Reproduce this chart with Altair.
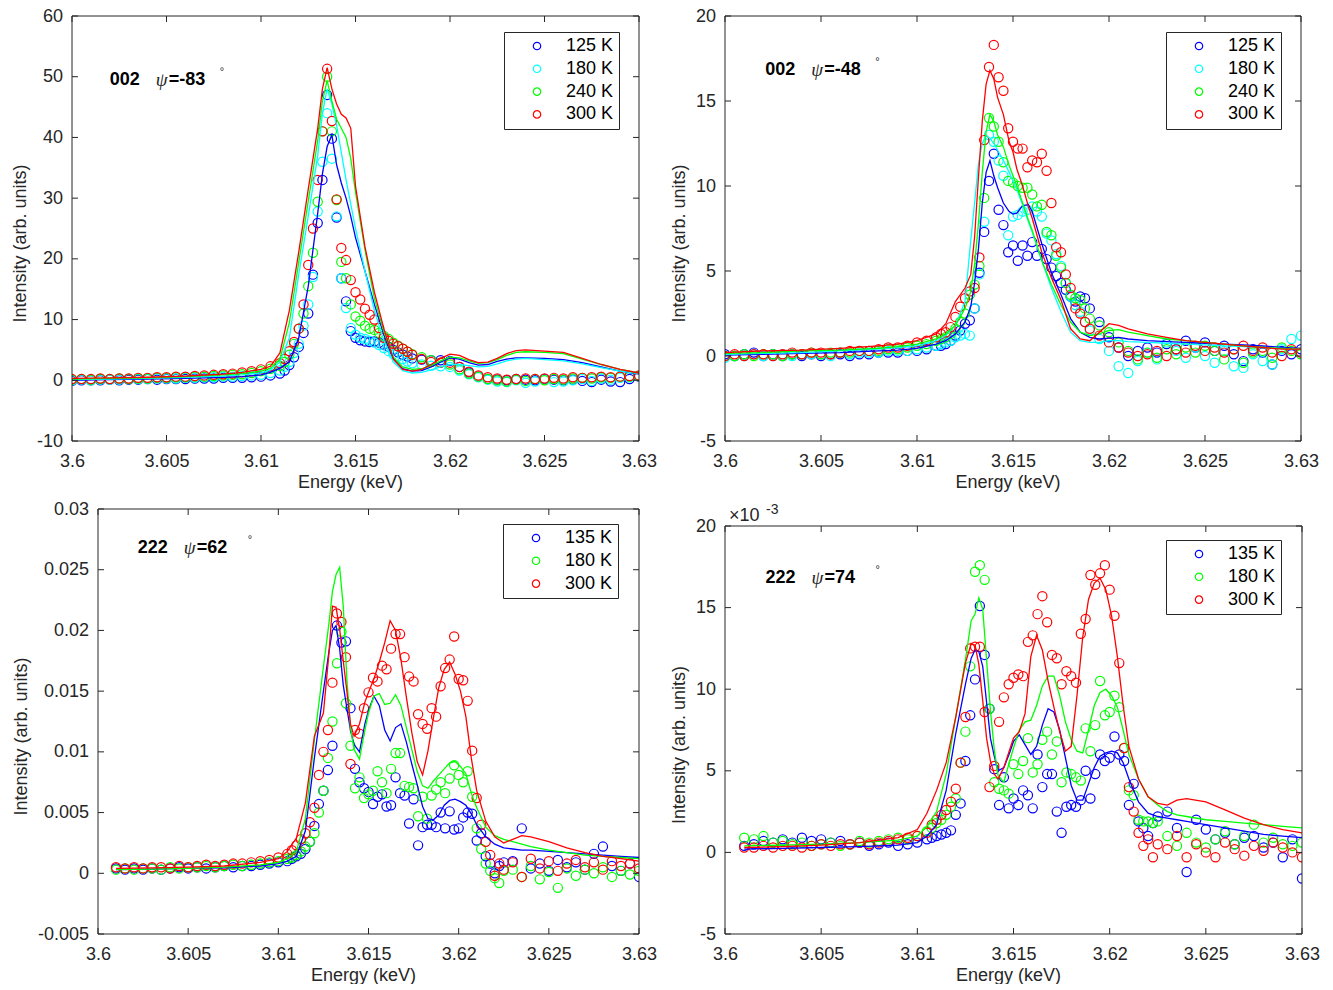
import altair as alt
import pandas as pd

FONT = "Liberation Sans"
AX = "#262626"
FS = 18

x_ticks = [3.6, 3.605, 3.61, 3.615, 3.62, 3.625, 3.63]

# ---------- panel A : 002, psi = -83 deg
a_temps = ["125 K", "180 K", "240 K", "300 K"]
a_colors = ["#0000ff", "#00ffff", "#00ff00", "#ff0000"]
a_yticks = [-10, 0, 10, 20, 30, 40, 50, 60]

xa_pts = [3.6000, 3.6005, 3.6010, 3.6015, 3.6020, 3.6025, 3.6030, 3.6035, 3.6040, 3.6045,
          3.6050, 3.6055, 3.6060, 3.6065, 3.6070, 3.6075, 3.6080, 3.6085, 3.6090, 3.6095,
          3.6100, 3.6105, 3.6110,
          3.61125, 3.6115, 3.61175, 3.6120, 3.61225, 3.6125, 3.61275, 3.6130, 3.61325, 3.6135,
          3.61375, 3.6140, 3.61425, 3.6145, 3.61475, 3.6150, 3.61525, 3.6155, 3.61575, 3.6160,
          3.61625, 3.6165, 3.61675, 3.6170, 3.61725, 3.6175, 3.61775, 3.6180,
          3.6185, 3.6190, 3.6195, 3.6200, 3.6205, 3.6210, 3.6215, 3.6220, 3.6225, 3.6230,
          3.6235, 3.6240, 3.6245, 3.6250, 3.6255, 3.6260, 3.6265, 3.6270, 3.6275, 3.6280,
          3.6285, 3.6290, 3.6295, 3.6300]
a125_pts = [-0.1, 0.0, 0.0, 0.0, 0.1, 0.0, 0.1, 0.1, 0.2, 0.1, 0.2, 0.2, 0.2, 0.3, 0.3, 0.3, 0.4, 0.4, 0.4, 0.5, 0.6, 0.8, 1.1,
            1.6, 2.5, 3.8, 5.5, 7.8, 11.0, 17.4, 25.9, 33.0, 47.0, 39.8, 26.8, 16.8, 13.0, 8.1, 7.0, 6.6, 6.4, 6.3, 6.4,
            6.2, 5.9, 5.5, 5.0, 4.6, 4.2, 3.9, 3.6,
            3.4, 3.3, 3.3, 3.2, 2.2, 1.3, 0.6, 0.2, 0.1, 0.0, 0.2, 0.1, 0.0, 0.2, 0.1, 0.0, 0.1, -0.1, -0.3, 0.1,
            -0.2, -0.3, 0.2, 0.6]
a180_pts = [0.0, 0.1, 0.0, 0.1, 0.1, 0.1, 0.2, 0.2, 0.2, 0.3, 0.3, 0.3, 0.4, 0.4, 0.5, 0.5, 0.6, 0.6, 0.7, 0.8, 0.9, 1.2, 1.6,
            2.2, 3.0, 4.5, 6.0, 9.0, 12.5, 17.0, 27.8, 36.0, 44.0, 36.5, 27.0, 16.8, 11.9, 8.6, 7.5, 7.0, 6.8, 6.5, 6.2,
            5.8, 5.3, 4.8, 4.3, 3.9, 3.5, 3.1, 2.8,
            2.6, 2.4, 2.3, 2.2, 1.6, 1.0, 0.5, 0.1, -0.2, -0.3, 0.0, -0.4, -0.2, 0.1, -0.3, -0.2, 0.0, 0.2, -0.1, 0.3,
            0.1, 0.4, 0.5, 0.7]
a240_pts = [0.1, 0.2, 0.1, 0.2, 0.2, 0.3, 0.2, 0.3, 0.3, 0.4, 0.4, 0.5, 0.5, 0.6, 0.6, 0.7, 0.8, 0.9, 1.0, 1.2, 1.5, 1.9, 2.4,
            3.0, 4.2, 6.0, 8.5, 11.0, 15.5, 21.0, 29.4, 41.0, 50.0, 41.0, 29.7, 19.5, 16.8, 12.5, 10.5, 9.8, 9.0, 8.5, 8.3,
            7.8, 7.3, 6.8, 6.2, 5.7, 5.2, 4.7, 4.3,
            3.8, 3.3, 2.9, 2.6, 1.8, 1.1, 0.6, 0.2, 0.0, -0.2, 0.1, -0.1, 0.2, 0.0, 0.2, 0.1, 0.3, 0.4, 0.3, 0.5,
            0.4, 0.6, 0.6, 0.7]
a300_pts = [0.2, 0.2, 0.2, 0.3, 0.2, 0.3, 0.3, 0.4, 0.4, 0.5, 0.5, 0.6, 0.6, 0.7, 0.8, 0.9, 1.0, 1.1, 1.3, 1.5, 1.8, 2.3, 2.8,
            3.5, 4.8, 6.3, 8.5, 12.5, 19.0, 25.0, 33.0, 41.0, 51.3, 42.7, 29.8, 21.8, 19.8, 16.5, 14.5, 13.3, 11.8, 10.8, 10.0,
            8.6, 7.0, 6.5, 6.0, 5.6, 5.2, 4.7, 4.2,
            3.5, 3.0, 2.9, 2.9, 2.2, 1.4, 0.8, 0.5, 0.3, 0.1, 0.2, 0.3, 0.2, 0.3, 0.4, 0.3, 0.5, 0.4, 0.5, 0.6,
            0.5, 0.6, 0.7, 0.8]

xa_fit = [3.600, 3.602, 3.604, 3.606, 3.608, 3.609, 3.610, 3.6105, 3.611, 3.6115,
          3.612, 3.6125, 3.613, 3.61325, 3.6135, 3.61375, 3.614, 3.61425, 3.6145, 3.61475,
          3.615, 3.6155, 3.616, 3.6165, 3.617, 3.6175, 3.618, 3.6185, 3.619, 3.6195,
          3.620, 3.6205, 3.621, 3.6215, 3.622, 3.6225, 3.623, 3.6235, 3.624, 3.625,
          3.626, 3.627, 3.628, 3.629, 3.630]
a125_fit = [0.0, 0.1, 0.2, 0.3, 0.5, 0.6, 0.9, 1.3, 2.0, 3.0,
            7.0, 15.5, 27.5, 34.0, 38.5, 40.4, 35.5, 32.5, 30.0, 27.0,
            23.5, 18.0, 12.5, 7.5, 3.5, 1.9, 1.5, 1.6, 2.2, 3.0,
            3.7, 3.5, 2.9, 2.5, 2.6, 3.1, 3.5, 3.7, 3.7, 3.6,
            3.4, 2.9, 2.2, 1.5, 1.0]
a180_fit = [0.1, 0.2, 0.3, 0.5, 0.7, 0.9, 1.2, 1.7, 3.0, 7.0,
            17.5, 27.0, 37.0, 44.0, 48.0, 45.5, 42.0, 37.5, 33.0, 29.0,
            25.0, 18.0, 11.5, 6.5, 3.0, 1.6, 1.2, 1.3, 1.7, 2.2,
            2.6, 2.6, 2.4, 2.2, 2.3, 2.7, 3.2, 3.5, 3.6, 3.4,
            3.2, 2.7, 2.1, 1.5, 1.1]
a240_fit = [0.2, 0.3, 0.4, 0.6, 0.9, 1.1, 1.5, 2.0, 3.5, 9.5,
            19.5, 29.5, 39.5, 46.0, 49.4, 46.0, 43.0, 41.5, 40.0, 36.5,
            31.0, 21.5, 13.5, 8.0, 3.8, 2.2, 1.8, 1.9, 2.4, 3.2,
            3.8, 3.7, 3.2, 2.8, 2.9, 3.4, 4.1, 4.6, 4.7, 4.6,
            4.4, 3.5, 2.6, 1.8, 1.2]
a300_fit = [0.3, 0.4, 0.5, 0.7, 1.0, 1.3, 1.8, 2.3, 4.5, 11.5,
            21.2, 31.5, 41.5, 48.0, 51.5, 48.0, 45.5, 43.8, 43.2, 41.5,
            32.0, 22.0, 14.5, 8.5, 3.5, 1.8, 1.5, 1.8, 2.6, 3.6,
            4.3, 4.1, 3.4, 2.9, 3.0, 3.6, 4.4, 4.9, 5.0, 4.8,
            4.6, 3.6, 2.6, 1.8, 1.2]

# ---------- panel B : 002, psi = -48 deg
b_yticks = [-5, 0, 5, 10, 15, 20]
xb_pts = [3.6000, 3.6005, 3.6010, 3.6015, 3.6020, 3.6025, 3.6030, 3.6035, 3.6040, 3.6045,
          3.6050, 3.6055, 3.6060, 3.6065, 3.6070, 3.6075, 3.6080, 3.6085, 3.6090, 3.6095,
          3.6100, 3.6105, 3.6110,
          3.61125, 3.6115, 3.61175, 3.6120, 3.61225, 3.6125, 3.61275, 3.6130, 3.61325, 3.6135,
          3.61375, 3.6140, 3.61425, 3.6145, 3.61475, 3.6150, 3.61525, 3.6155, 3.61575, 3.6160,
          3.61625, 3.6165, 3.61675, 3.6170, 3.61725, 3.6175, 3.61775, 3.6180, 3.61825, 3.6185,
          3.61875, 3.6190,
          3.6195, 3.6200, 3.6205, 3.6210, 3.6215, 3.6220, 3.6225, 3.6230, 3.6235, 3.6240,
          3.6245, 3.6250, 3.6255, 3.6260, 3.6265, 3.6270, 3.6275, 3.6280, 3.6285, 3.6290,
          3.6295, 3.6300]
b125_pts = [0.1, 0.0, 0.1, 0.2, 0.0, 0.1, 0.0, 0.1, 0.0, 0.1, 0.0, 0.1, 0.1, 0.0, 0.1, 0.1, 0.2, 0.2, 0.2, 0.3, 0.3, 0.4, 0.6,
            0.6, 0.7, 0.9, 1.2, 1.5, 1.9, 2.1, 2.8, 4.9, 7.3, 10.3, 11.9, 8.6, 7.7, 6.1, 6.5, 5.6, 6.5, 5.9, 6.7,
            5.9, 6.3, 5.7, 5.2, 4.7, 4.3, 3.9, 3.5, 3.2, 3.5, 3.4, 2.8,
            2.0, 1.1, 0.5, 0.0, 0.3, 0.5, 0.2, 0.7, 0.4, 0.9, 0.5, 0.8, 0.3, 0.6, 0.1, -0.3, 0.4, 0.2, -0.5, 0.3,
            0.1, 0.4]
b180_pts = [-0.1, 0.0, 0.0, 0.1, 0.0, 0.0, 0.1, 0.0, 0.1, 0.1, 0.1, 0.0, 0.2, 0.1, 0.2, 0.2, 0.2, 0.3, 0.3, 0.3, 0.4, 0.5, 0.6,
            0.7, 0.8, 0.9, 1.1, 1.2, 1.3, 1.2, 2.8, 4.8, 7.9, 13.0, 12.6, 11.5, 10.6, 7.1, 8.2, 8.3, 8.5, 8.6, 8.8,
            8.5, 8.2, 7.2, 6.8, 6.0, 5.3, 4.3, 3.5, 3.0, 2.6, 2.0, 1.5,
            1.0, 0.3, -0.6, -1.0, -0.3, 0.2, -0.2, 0.8, 0.3, -0.1, 0.5, 0.0, -0.4, 0.3, -0.6, -0.7, 0.1, -0.3, -0.5, 0.4,
            1.0, 1.2]
b240_pts = [0.0, 0.0, 0.1, 0.0, 0.1, 0.1, 0.0, 0.1, 0.1, 0.2, 0.1, 0.2, 0.2, 0.2, 0.3, 0.3, 0.3, 0.4, 0.4, 0.5, 0.6, 0.7, 0.9,
            1.0, 1.1, 1.3, 1.6, 2.0, 2.5, 3.6, 4.2, 5.3, 9.3, 14.0, 13.5, 12.6, 11.4, 10.3, 10.2, 10.0, 9.9, 9.9, 9.5,
            8.8, 8.9, 7.3, 7.1, 5.9, 5.2, 4.3, 3.6, 3.4, 3.3, 2.8, 2.2,
            1.8, 1.4, 0.8, 0.3, -0.2, 0.2, -0.1, 0.4, 0.1, 0.5, 0.2, 0.6, 0.3, -0.2, 0.4, -0.4, 0.2, 0.3, -0.1, 0.5,
            0.3, 0.1]
b300_pts = [0.0, 0.1, 0.0, 0.1, 0.1, 0.0, 0.1, 0.2, 0.1, 0.2, 0.2, 0.1, 0.2, 0.3, 0.3, 0.3, 0.4, 0.5, 0.5, 0.6, 0.8, 0.9, 1.1,
            1.3, 1.4, 1.7, 2.3, 2.9, 3.4, 3.8, 4.0, 5.8, 12.7, 17.0, 18.3, 16.4, 15.6, 13.4, 12.6, 12.2, 12.2, 11.1, 11.5,
            11.4, 11.9, 10.9, 9.0, 6.4, 6.1, 4.8, 4.0, 2.8, 2.5, 2.0, 1.6,
            1.2, 0.8, 0.5, 0.2, 0.0, 0.1, 0.3, 0.0, 0.4, 0.2, 0.6, 0.3, 0.5, 0.2, 0.4, 0.6, 0.3, 0.5, 0.2, 0.0,
            0.4, 0.2]

xb_fit = [3.600, 3.602, 3.604, 3.606, 3.608, 3.609, 3.610, 3.611, 3.6115, 3.612,
          3.6125, 3.6128, 3.613, 3.6132, 3.6134, 3.6136, 3.6138, 3.614, 3.6142, 3.6145,
          3.6148, 3.615, 3.6152, 3.6155, 3.6158, 3.616, 3.6165, 3.617, 3.6175, 3.618,
          3.6185, 3.619, 3.6195, 3.620, 3.6205, 3.621, 3.622, 3.623, 3.624, 3.625,
          3.626, 3.627, 3.628, 3.629, 3.630]
b125_fit = [0.05, 0.1, 0.15, 0.2, 0.3, 0.35, 0.45, 0.7, 0.9, 1.3,
            2.0, 2.9, 4.3, 6.3, 9.0, 10.8, 11.5, 10.6, 9.9, 9.0,
            8.5, 8.35, 8.4, 8.85, 8.9, 8.5, 6.6, 4.9, 3.6, 2.2,
            1.4, 1.1, 1.0, 1.05, 1.1, 1.0, 0.9, 0.85, 0.8, 0.75,
            0.7, 0.65, 0.6, 0.5, 0.45]
b180_fit = [0.1, 0.15, 0.2, 0.3, 0.4, 0.5, 0.6, 0.9, 1.2, 1.8,
            3.2, 6.8, 9.0, 11.3, 12.5, 13.0, 12.8, 12.5, 12.1, 11.5,
            10.8, 10.3, 9.8, 8.9, 7.9, 7.3, 5.6, 4.0, 2.6, 1.4,
            0.9, 0.8, 0.8, 0.9, 0.9, 0.85, 0.8, 0.75, 0.7, 0.65,
            0.6, 0.55, 0.5, 0.45, 0.4]
b240_fit = [0.15, 0.2, 0.3, 0.35, 0.45, 0.55, 0.7, 1.0, 1.3, 1.8,
            2.8, 3.8, 5.4, 7.8, 10.8, 13.2, 14.2, 13.8, 13.0, 12.3,
            11.2, 10.6, 10.0, 9.0, 8.0, 7.4, 5.6, 4.2, 3.0, 2.0,
            1.4, 1.2, 1.3, 1.5, 1.55, 1.4, 1.2, 1.0, 0.9, 0.8,
            0.7, 0.6, 0.5, 0.45, 0.4]
b300_fit = [0.2, 0.3, 0.35, 0.45, 0.6, 0.7, 0.9, 1.3, 1.9, 3.2,
            4.0, 4.8, 7.0, 10.5, 13.8, 16.0, 16.8, 16.3, 15.2, 14.2,
            12.6, 12.0, 11.0, 10.0, 8.8, 8.1, 6.1, 4.6, 3.3, 1.6,
            1.0, 0.9, 1.4, 1.9, 1.8, 1.6, 1.3, 1.1, 0.9, 0.8,
            0.7, 0.6, 0.5, 0.4, 0.4]

# ---------- panels C and D : 222 reflection (values in units of 1e-3)
cd_temps = ["135 K", "180 K", "300 K"]
cd_colors = ["#0000ff", "#00ff00", "#ff0000"]
c_yticks = [-0.005, 0, 0.005, 0.01, 0.015, 0.02, 0.025, 0.03]
d_yticks = [-5, 0, 5, 10, 15, 20]

x222_pts = [3.6010, 3.6015, 3.6020, 3.6025, 3.6030, 3.6035, 3.6040, 3.6045, 3.6050, 3.6055,
            3.6060, 3.6065, 3.6070, 3.6075, 3.6080, 3.6085, 3.6090, 3.6095, 3.6100, 3.6105,
            3.61075, 3.6110, 3.61125, 3.6115, 3.61175, 3.6120, 3.61225, 3.6125, 3.61275, 3.6130,
            3.61325, 3.6135, 3.61375, 3.6140, 3.61425, 3.6145, 3.61475, 3.6150, 3.61525, 3.6155,
            3.61575, 3.6160, 3.61625, 3.6165, 3.61675, 3.6170, 3.61725, 3.6175, 3.61775, 3.6180,
            3.61825, 3.6185, 3.61875, 3.6190, 3.61925, 3.6195, 3.61975, 3.6200, 3.62025, 3.6205,
            3.62075, 3.6210, 3.62125, 3.6215, 3.62175, 3.6220, 3.62225, 3.6225,
            3.6230, 3.6235, 3.6240, 3.6245, 3.6250, 3.6255, 3.6260, 3.6265, 3.6270, 3.6275,
            3.6280, 3.6285, 3.6290, 3.6295, 3.6300]
c135_pts = [0.4, 0.3, 0.4, 0.3, 0.4, 0.3, 0.4, 0.5, 0.4, 0.5, 0.4, 0.5, 0.6, 0.5, 0.6, 0.6, 0.7, 0.8, 0.9, 1.0,
            1.2, 1.4, 1.6, 2.0, 2.6, 3.9, 5.7, 6.8, 8.5, 10.5,
            20.4, 19.0, 19.1, 13.6, 8.6, 7.5, 7.0, 6.7, 5.7, 6.3,
            6.5, 5.5, 5.6, 7.9, 6.6, 6.4, 4.1, 6.1, 2.3, 3.8,
            4.0, 4.0, 3.8, 5.0, 3.7, 5.1, 3.6, 3.7, 4.6, 5.0,
            4.9, 2.7, 3.3, 1.4, 0.8, 0.0, 0.6, 0.9,
            1.0, 3.7, 0.4, 0.8, 0.2, 1.1, 0.5, 0.9, 0.3, 1.6, 2.2, 0.6, 0.2, 0.8, -0.3]
c180_pts = [0.3, 0.4, 0.3, 0.4, 0.4, 0.3, 0.5, 0.4, 0.5, 0.5, 0.6, 0.5, 0.6, 0.7, 0.6, 0.7, 0.8, 0.9, 1.0, 1.2,
            1.3, 1.5, 1.8, 2.2, 2.6, 3.3, 5.0, 6.8, 9.5, 12.5,
            17.3, 19.9, 14.0, 10.5, 7.0, 7.9, 6.2, 6.5, 6.8, 8.4,
            7.5, 6.6, 8.6, 9.9, 9.9, 7.2, 7.1, 7.0, 4.7, 6.3,
            4.5, 6.4, 6.9, 7.5, 6.6, 7.8, 8.9, 8.1, 7.5, 8.4,
            6.3, 3.7, 2.0, 0.8, 0.2, -0.4, -0.8, 0.2,
            0.3, -0.3, 0.6, -0.5, 0.1, -1.2, 0.4, -0.2, 0.3, 0.0, 0.5, -0.3, 0.2, -0.1, 0.2]
c300_pts = [0.5, 0.4, 0.5, 0.4, 0.5, 0.5, 0.4, 0.6, 0.5, 0.6, 0.7, 0.6, 0.7, 0.8, 0.8, 0.9, 1.0, 1.1, 1.3, 1.6,
            1.9, 2.3, 2.8, 3.3, 4.2, 5.4, 8.1, 10.0, 11.8, 15.7,
            21.4, 20.7, 17.8, 9.0, 11.8, 11.5, 13.6, 14.9, 16.1, 15.8,
            17.1, 16.8, 18.5, 19.7, 19.7, 17.8, 16.2, 15.8, 13.1, 12.3,
            11.9, 13.6, 12.9, 15.4, 16.9, 17.6, 19.5, 16.0, 15.9, 14.2,
            10.1, 6.2, 4.0, 2.6, 1.5, -0.2, 0.8, 0.3,
            0.9, -0.3, 1.2, 0.4, 1.0, 0.2, 0.8, 1.1, 0.5, 0.9, 0.3, 1.0, 0.6, 0.8, 0.4]

x222_fit = [3.601, 3.603, 3.605, 3.607, 3.609, 3.610, 3.6105, 3.611, 3.6115, 3.612,
            3.6125, 3.6128, 3.613, 3.6132, 3.6134, 3.6136, 3.6138, 3.614, 3.6142, 3.6145,
            3.6148, 3.615, 3.6153, 3.6156, 3.6159, 3.6162, 3.6165, 3.6168, 3.6171, 3.6174,
            3.6177, 3.618, 3.6183, 3.6186, 3.6189, 3.6192, 3.6195, 3.6198, 3.6201, 3.6204,
            3.6207, 3.621, 3.6215, 3.622, 3.6225, 3.623, 3.6235, 3.624, 3.625, 3.626,
            3.627, 3.628, 3.629, 3.630]
c135_fit = [0.3, 0.35, 0.4, 0.45, 0.6, 0.8, 1.0, 1.4, 3.5, 9.5,
            15.0, 18.2, 20.0, 20.4, 18.5, 15.5, 13.6, 11.8, 10.6, 10.0,
            12.3, 13.4, 14.6, 13.8, 11.8, 10.9, 12.0, 12.3, 10.8, 9.0,
            7.3, 5.5, 4.5, 4.4, 4.8, 5.6, 6.0, 6.1, 5.9, 5.6,
            4.9, 4.0, 3.0, 2.4, 2.1, 2.0, 1.9, 1.9, 1.8, 1.7,
            1.6, 1.5, 1.4, 1.3]
c180_fit = [0.3, 0.35, 0.4, 0.5, 0.7, 0.9, 1.2, 1.8, 4.5, 11.0,
            17.0, 20.5, 23.2, 24.6, 25.2, 22.0, 16.0, 12.0, 10.2, 9.4,
            11.8, 13.2, 14.6, 14.8, 13.9, 14.0, 14.7, 13.8, 12.0, 10.2,
            8.4, 7.2, 7.0, 7.6, 8.1, 8.6, 9.1, 9.2, 8.8, 8.2,
            6.6, 5.4, 3.8, 3.1, 2.8, 2.6, 2.4, 2.2, 1.9, 1.7,
            1.5, 1.4, 1.3, 1.2]
c300_fit = [0.4, 0.45, 0.5, 0.6, 0.9, 1.2, 1.8, 2.9, 5.8, 11.3,
            13.2, 18.0, 22.0, 21.9, 20.1, 17.5, 15.0, 12.3, 11.3, 12.3,
            14.1, 14.9, 16.0, 17.4, 19.0, 20.8, 20.0, 17.6, 14.5, 11.6,
            9.2, 8.1, 10.1, 12.8, 15.3, 16.8, 17.4, 16.4, 15.0, 12.9,
            9.5, 6.8, 4.3, 3.0, 2.5, 2.8, 3.1, 3.0, 2.6, 2.1,
            1.7, 1.4, 1.2, 1.0]

d135_pts = [0.4, 0.5, 0.7, 0.6, 0.8, 0.6, 0.9, 0.7, 0.8, 0.6, 0.7, 0.5, 0.6, 0.4, 0.5, 0.6, 0.4, 0.5, 0.6, 0.8,
            0.9, 1.0, 1.1, 1.2, 1.35, 2.3, 3.0, 5.6, 8.4, 10.6,
            15.1, 12.1, 8.8, 5.1, 2.9, 4.6, 2.7, 3.3, 2.9, 3.8,
            3.5, 2.7, 6.0, 4.0, 4.8, 4.8, 2.5, 1.2, 2.8, 2.9,
            2.8, 3.2, 5.0, 3.3, 4.8, 6.0, 5.6, 5.8, 7.1, 6.0,
            5.6, 2.9, 4.2, 1.9, 1.5, 1.0, 1.8, 2.2,
            2.5, 1.5, -1.2, 2.0, 1.4, 0.8, 1.2, 0.5, 0.9, 1.0, 0.3, 0.6, -0.3, 0.8, -1.6]
d180_pts = [0.9, 0.8, 1.0, 0.6, 0.7, 0.5, 0.6, 0.4, 0.5, 0.6, 0.4, 0.5, 0.7, 0.6, 0.7, 0.8, 0.9, 0.8, 1.0, 1.3,
            1.5, 1.8, 2.0, 2.3, 2.8, 3.3, 5.5, 7.4, 11.4, 17.2,
            17.6, 16.7, 8.8, 4.3, 3.9, 3.8, 3.6, 5.4, 4.8, 5.6,
            7.0, 4.9, 5.4, 6.9, 7.4, 6.0, 6.8, 4.3, 4.9, 4.8,
            4.6, 4.4, 7.6, 6.2, 7.8, 10.5, 8.4, 8.6, 9.6, 8.9,
            6.4, 3.8, 3.5, 2.0, 1.9, 1.9, 1.8, 1.9,
            1.0, 0.4, 1.2, 0.6, 0.3, 0.8, 1.3, 0.5, 1.0, 1.7, 0.6, 0.9, 0.5, 0.4, 0.6]
d300_pts = [0.3, 0.3, 0.4, 0.3, 0.4, 0.4, 0.3, 0.4, 0.5, 0.4, 0.5, 0.5, 0.6, 0.5, 0.6, 0.7, 0.8, 0.9, 1.0, 1.2,
            1.7, 2.0, 2.3, 2.6, 3.1, 3.9, 5.5, 8.3, 12.5, 12.6,
            12.6, 8.6, 4.0, 5.3, 8.0, 9.5, 10.3, 10.7, 10.9, 10.8,
            12.9, 13.3, 14.6, 15.7, 14.1, 12.1, 11.9, 10.3, 11.1, 10.8,
            10.4, 13.4, 14.3, 17.0, 16.4, 17.1, 17.6, 16.1, 14.5, 11.6,
            6.4, 4.0, 2.5, 1.2, 0.4, 0.8, -0.3, 0.5,
            0.2, 1.0, -0.3, 0.5, 0.0, -0.3, 0.6, 0.2, -0.2, 0.4, 0.1, 0.6, 0.3, 0.0, -0.3]

d135_fit = [0.2, 0.25, 0.3, 0.35, 0.45, 0.6, 1.0, 1.7, 3.8, 7.3,
            10.3, 11.9, 12.4, 12.3, 11.4, 9.2, 7.0, 5.9, 5.0, 5.2,
            6.1, 6.8, 7.2, 6.6, 6.0, 6.5, 7.8, 8.8, 8.6, 7.5,
            5.8, 4.1, 3.2, 3.2, 4.2, 5.2, 5.9, 6.1, 6.2, 6.1,
            5.5, 4.5, 3.1, 2.4, 2.2, 2.1, 2.0, 1.9, 1.7, 1.5,
            1.3, 1.1, 1.0, 0.9]
d180_fit = [0.4, 0.45, 0.5, 0.6, 0.75, 1.0, 1.6, 2.5, 4.8, 8.3,
            11.8, 14.2, 14.6, 15.6, 14.9, 11.8, 8.7, 6.3, 4.7, 4.3,
            5.6, 6.4, 7.5, 8.0, 8.1, 9.0, 10.2, 10.8, 10.8, 9.6,
            8.0, 6.9, 6.2, 6.1, 7.5, 9.0, 9.8, 10.0, 9.6, 8.9,
            7.5, 6.0, 4.5, 3.4, 2.9, 2.5, 2.3, 2.2, 2.0, 1.9,
            1.8, 1.7, 1.6, 1.5]
d300_fit = [0.3, 0.35, 0.45, 0.6, 0.9, 1.4, 2.4, 3.8, 5.5, 8.3,
            11.6, 12.8, 12.7, 11.5, 9.3, 7.0, 5.6, 4.8, 4.5, 5.2,
            6.3, 7.0, 7.4, 8.5, 12.0, 13.3, 12.4, 10.5, 8.9, 7.4,
            6.2, 6.5, 9.6, 13.2, 15.5, 16.5, 16.8, 16.1, 14.5, 12.0,
            9.0, 6.5, 4.5, 3.4, 3.0, 2.9, 3.2, 3.3, 3.1, 2.6,
            2.1, 1.7, 1.4, 1.2]


def long_table(xs, series, temps, factor):
    parts = []
    for t, ys in zip(temps, series):
        df = pd.DataFrame({"x": xs, "y": ys})
        df["y"] = df["y"] * factor
        df["T"] = t
        parts.append(df)
    return pd.concat(parts, ignore_index=True)


def panel(pts, fit, temps, colors, ydom, yticks, w, h, tag, psi, lab_x, lab_y,
          leg_x, leg_y, top=0, left=0, exponent=False):
    # the box runs from x=left to left+w and from y=top to h inside the view
    xs = alt.Scale(domain=[3.6, 3.63], nice=False, zero=False, range=[left, left + w])
    ys = alt.Scale(domain=ydom, nice=False, zero=False, range=[h, top])
    xenc = alt.X("x:Q", scale=xs, axis=alt.Axis(
        values=x_ticks, title="Energy (keV)", labelExpr="'' + datum.value",
        ticks=False, tickSize=0, domain=False, grid=False, labelPadding=11,
        titlePadding=3, titleX=left + w / 2 - 5.5, labelFlush=False, labelOverlap=False))
    yenc = alt.Y("y:Q", scale=ys, axis=alt.Axis(
        values=yticks, title="Intensity (arb. units)", labelExpr="'' + datum.value",
        ticks=False, tickSize=0, domain=False, grid=False, labelPadding=9.5,
        titlePadding=7, titleY=(top + h) / 2 + 14.5, offset=-left,
        labelFlush=False, labelOverlap=False))
    cscale = alt.Scale(domain=temps, range=colors)

    points = alt.Chart(pts).mark_point(
        shape="circle", filled=False, size=85, strokeWidth=1.2, opacity=1, clip=True
    ).encode(
        x=xenc, y=yenc,
        color=alt.Color("T:N", scale=cscale, legend=alt.Legend(
            title=None, orient="none", legendX=left + leg_x, legendY=leg_y,
            strokeColor=AX, fillColor="white", padding=5, rowPadding=4.8,
            symbolType="circle", symbolSize=55, symbolStrokeWidth=1.2,
            symbolOffset=19, labelOffset=20, labelExpr="datum.label + '\u2002\u2002'",
            labelFontSize=FS, labelFont=FONT, labelColor="black")),
    )
    lines = alt.Chart(fit).mark_line(strokeWidth=1.3, clip=True).encode(
        x=xenc, y=yenc, color=alt.Color("T:N", scale=cscale, legend=None))

    # box and inward ticks, MATLAB style
    one = alt.Chart(pd.DataFrame({"a": [0]}))
    tick = dict(color=AX, strokeWidth=1)
    r = left + w
    b_top = one.mark_rule(**tick).encode(x=alt.value(left), x2=alt.value(r), y=alt.value(top))
    b_bot = one.mark_rule(**tick).encode(x=alt.value(left), x2=alt.value(r), y=alt.value(h))
    b_lft = one.mark_rule(**tick).encode(x=alt.value(left), y=alt.value(top), y2=alt.value(h))
    b_rgt = one.mark_rule(**tick).encode(x=alt.value(r), y=alt.value(top), y2=alt.value(h))

    xt = pd.DataFrame({"x": x_ticks})
    yt = pd.DataFrame({"y": yticks})
    t_bottom = alt.Chart(xt).mark_rule(**tick).encode(x=xenc, y=alt.value(h), y2=alt.value(h - 6))
    t_top = alt.Chart(xt).mark_rule(**tick).encode(x=xenc, y=alt.value(top), y2=alt.value(top + 6))
    t_left = alt.Chart(yt).mark_rule(**tick).encode(y=yenc, x=alt.value(left), x2=alt.value(left + 6))
    t_right = alt.Chart(yt).mark_rule(**tick).encode(y=yenc, x=alt.value(r), x2=alt.value(r - 6))

    lab = pd.DataFrame({"x": [lab_x], "y": [lab_y]})
    base = alt.Chart(lab)
    l1 = base.mark_text(align="left", baseline="middle", font=FONT, fontSize=FS,
                        fontWeight="bold", color="black").encode(x=xenc, y=yenc, text=alt.value(tag))
    l2 = base.mark_text(align="left", baseline="middle", font="Liberation Serif", fontSize=19,
                        fontStyle="italic", color=AX, dx=46).encode(x=xenc, y=yenc, text=alt.value("ψ"))
    l3 = base.mark_text(align="left", baseline="middle", font=FONT, fontSize=FS,
                        fontWeight="bold", color="black", dx=59).encode(x=xenc, y=yenc, text=alt.value(psi))
    l4 = base.mark_text(align="left", baseline="middle", font=FONT, fontSize=11,
                        color=AX, dx=110, dy=-8).encode(x=xenc, y=yenc, text=alt.value("°"))

    layers = [points, lines, b_top, b_bot, b_lft, b_rgt, t_bottom, t_top, t_left, t_right,
              l1, l2, l3, l4]
    if exponent:
        e1 = one.mark_text(align="left", baseline="middle", font=FONT, fontSize=FS, color=AX).encode(
            x=alt.value(left + 4), y=alt.value(top - 10.5), text=alt.value("×10"))
        e2 = one.mark_text(align="left", baseline="middle", font=FONT, fontSize=14, color=AX).encode(
            x=alt.value(left + 41), y=alt.value(top - 16.5), text=alt.value("-3"))
        # invisible spacer: lines the row up so this box starts 17 px below its neighbour's
        sp = one.mark_rule(strokeOpacity=0, strokeWidth=1).encode(
            x=alt.value(left), x2=alt.value(left + 1), y=alt.value(top - 25.5))
        layers += [e1, e2, sp]
    return alt.layer(*layers).properties(width=left + w, height=h)


pa = panel(long_table(xa_pts, [a125_pts, a180_pts, a240_pts, a300_pts], a_temps, 1),
           long_table(xa_fit, [a125_fit, a180_fit, a240_fit, a300_fit], a_temps, 1),
           a_temps, a_colors, [-10, 60], a_yticks, 567, 425,
           "002", "=-83", 3.602, 49.5, 432, 16)
pb = panel(long_table(xb_pts, [b125_pts, b180_pts, b240_pts, b300_pts], a_temps, 1),
           long_table(xb_fit, [b125_fit, b180_fit, b240_fit, b300_fit], a_temps, 1),
           a_temps, a_colors, [-5, 20], b_yticks, 576, 425,
           "002", "=-48", 3.6021, 16.8, 441, 16)
# C's box sits 26 px right of A's, so its view carries 26 px of room on the left
pc = panel(long_table(x222_pts, [c135_pts, c180_pts, c300_pts], cd_temps, 0.001),
           long_table(x222_fit, [c135_fit, c180_fit, c300_fit], cd_temps, 0.001),
           cd_temps, cd_colors, [-0.005, 0.03], c_yticks, 541, 425,
           "222", "=62", 3.6022, 0.0268, 405, 15, left=26)
pd_ = panel(long_table(x222_pts, [d135_pts, d180_pts, d300_pts], cd_temps, 1),
            long_table(x222_fit, [d135_fit, d180_fit, d300_fit], cd_temps, 1),
            cd_temps, cd_colors, [-5, 20], d_yticks, 577, 425,
            "222", "=74", 3.6021, 16.8, 441, 31, top=17, exponent=True)

chart = alt.concat(
    pa, pb, pc, pd_, columns=2, align="none", spacing={"row": 9, "column": 13}
).resolve_scale(
    color="independent", x="independent", y="independent"
).resolve_legend(
    color="independent"
).properties(
    padding={"left": 3, "top": -1, "right": 0, "bottom": 0}
).configure_view(
    strokeWidth=0
).configure_axis(
    labelFont=FONT, titleFont=FONT, labelFontSize=FS, titleFontSize=FS,
    labelColor=AX, titleColor=AX, titleFontWeight="normal"
)

chart.save("out.html", embed_options={"renderer": "svg", "actions": False})
